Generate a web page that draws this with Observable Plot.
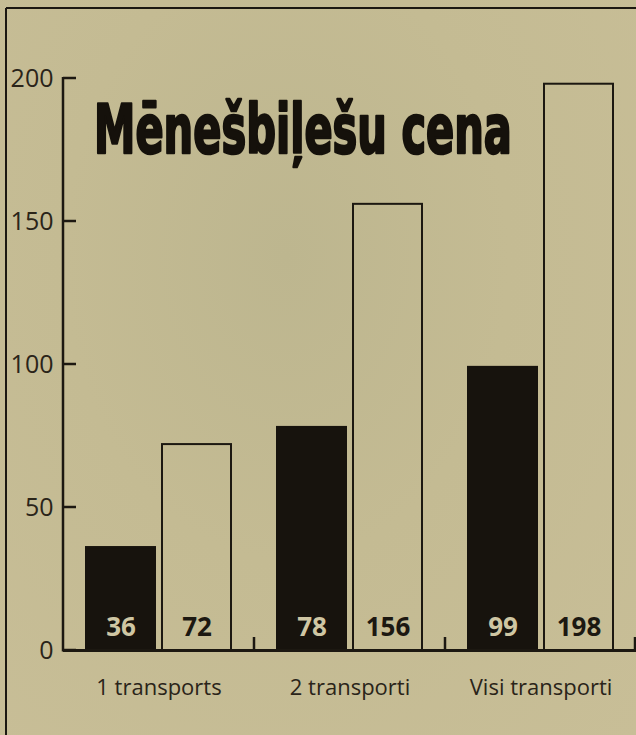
<!DOCTYPE html>
<html>
<head>
<meta charset="utf-8">
<script src="https://cdn.jsdelivr.net/npm/d3@7"></script>
<script src="https://cdn.jsdelivr.net/npm/@observablehq/plot@0.6"></script>
<style>
  html, body { margin: 0; padding: 0; background: #c6bc95; }
  #wrap { position: relative; width: 636px; height: 735px; overflow: hidden;
    background: radial-gradient(ellipse at 45% 35%, #bdb68f 0%, #c4bb93 45%, #c8be97 100%); }
  #chart svg { display: block; }
</style>
</head>
<body>
<div id="wrap"><div id="chart"></div></div>
<script>
// ---- data ----
const title = "Mēnešbiļešu cena";
const groups = ["1 transports", "2 transporti", "Visi transporti"];
const seriesKeys = ["black", "white"];
const blackValues = [36, 78, 99];
const whiteValues = [72, 156, 198];
const yTicks = [0, 50, 100, 150, 200];

const data = groups.flatMap((g, i) => [
  {group: g, series: "black", value: blackValues[i]},
  {group: g, series: "white", value: whiteValues[i]}
]);

const ink = "#1c1811";
const font = "'Open Sans', 'Noto Sans', sans-serif";

const plot = Plot.plot({
  width: 636,
  height: 735,
  marginLeft: 62,
  marginRight: 0,
  marginTop: 78,
  marginBottom: 85,
  style: {background: "transparent", fontFamily: font, color: ink, overflow: "visible"},
  fx: {domain: groups, padding: 0},
  x: {domain: seriesKeys, paddingInner: 0.09, paddingOuter: 0.3, axis: null},
  y: {domain: [0, 200], axis: null},
  marks: [
    Plot.barY(data, {
      fx: "group", x: "series", y: "value",
      fill: d => d.series === "black" ? "#17130d" : "none",
      stroke: d => d.series === "black" ? "#17130d" : ink,
      strokeWidth: 2
    }),
    Plot.text(data, {
      fx: "group", x: "series", y: 0, text: d => String(d.value),
      dy: -23, lineAnchor: "middle", fontSize: 26, fontWeight: "bold",
      fill: d => d.series === "black" ? "#cfc6a3" : ink
    }),
    Plot.ruleY([0], {stroke: ink, strokeWidth: 3}),
    Plot.axisY({ticks: yTicks, tickSize: 0, tickPadding: 10, fontSize: 25, fill: "#2a2419", label: null}),
    Plot.axisFx({anchor: "bottom", tickSize: 0, tickPadding: 29, fontSize: 22, fill: "#2a2419", label: null})
  ]
});

document.getElementById("chart").appendChild(plot);

// ---- decorations drawn with the plot's own scales ----
const svg = d3.select(plot);
const y = plot.scale("y");
const fx = plot.scale("fx");
const x0 = fx.apply(groups[0]);
const yTop = y.apply(200), yBot = y.apply(0);

const deco = svg.append("g").attr("stroke", ink).attr("fill", "none");
// y axis line
deco.append("line").attr("x1", x0).attr("x2", x0).attr("y1", yTop - 1).attr("y2", yBot + 1.5).attr("stroke-width", 2.5);
// inward ticks
yTicks.forEach(t => {
  deco.append("line").attr("x1", x0).attr("x2", x0 + 13).attr("y1", y.apply(t)).attr("y2", y.apply(t)).attr("stroke-width", 2.5);
});
// group boundary ticks on x axis
groups.forEach(g => {
  const xb = Math.min(fx.apply(g) + fx.bandwidth, 635);
  deco.append("line").attr("x1", xb).attr("x2", xb).attr("y1", yBot - 13).attr("y2", yBot).attr("stroke-width", 2.5);
});
// outer frame (left and top rules)
deco.append("line").attr("x1", 6).attr("x2", 6).attr("y1", 8).attr("y2", 735).attr("stroke-width", 2);
deco.append("line").attr("x1", 6).attr("x2", 636).attr("y1", 8).attr("y2", 8).attr("stroke-width", 2);

// title inside the plot area, condensed horizontally to the reference's width
const titleText = svg.append("text")
  .attr("x", 0).attr("y", 0)
  .attr("text-anchor", "start")
  .attr("font-family", "'DejaVu Sans Condensed', 'DejaVu Sans', sans-serif")
  .attr("font-weight", "bold")
  .attr("font-size", 68)
  .attr("fill", "#15110b")
  .attr("stroke", "#15110b")
  .attr("stroke-width", 2.5)
  .attr("stroke-linejoin", "round")
  .text(title);
const natural = titleText.node().getComputedTextLength() || 620;
const sx = 418 / natural;
titleText.attr("transform", `translate(94,153) scale(${sx},1)`);
</script>
</body>
</html>
